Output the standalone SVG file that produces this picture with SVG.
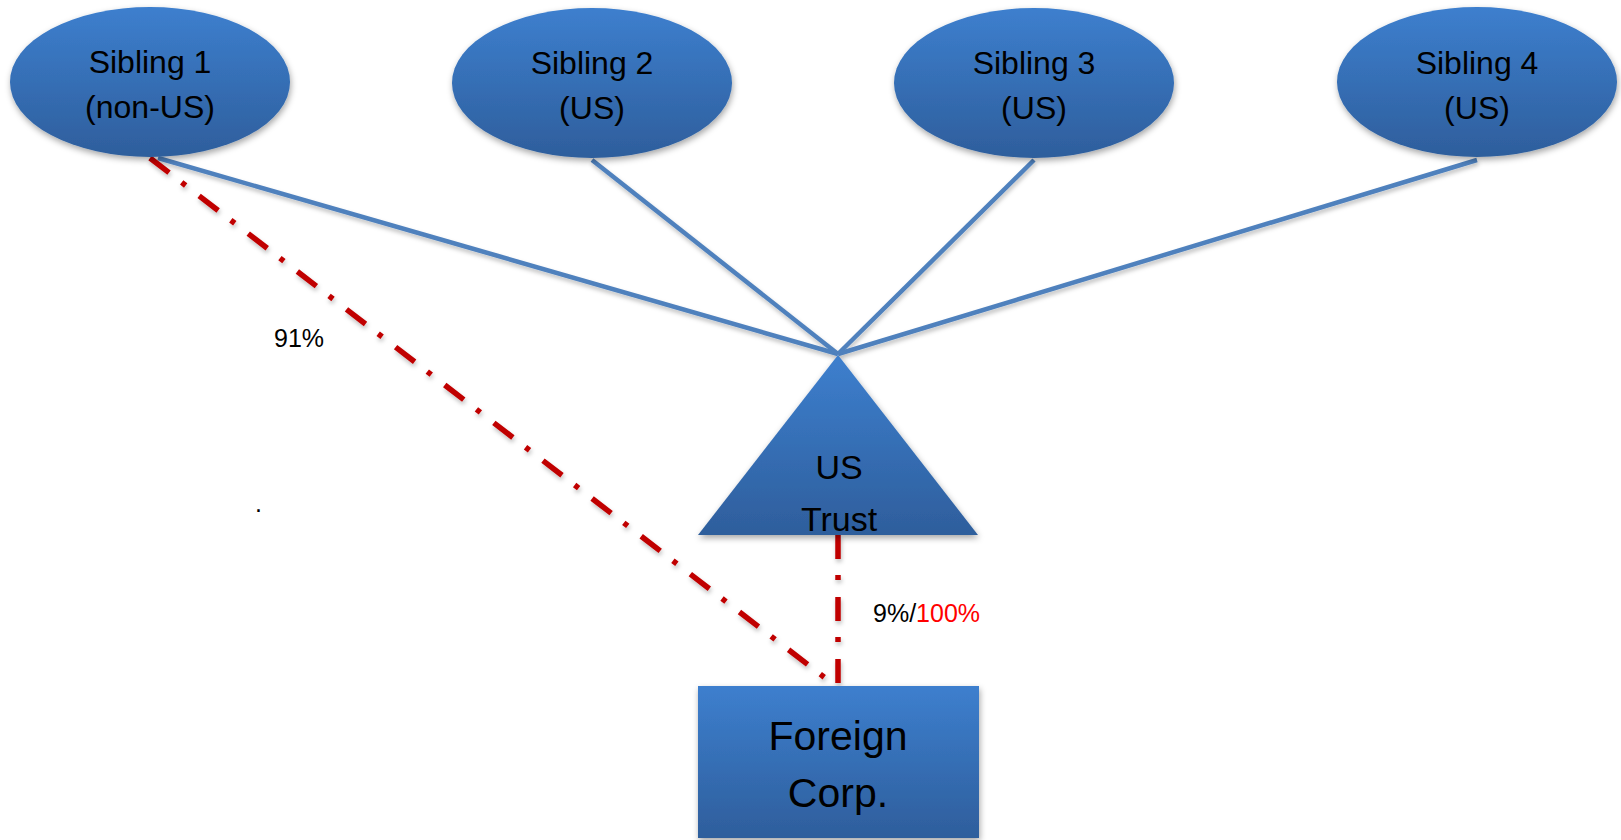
<svg xmlns="http://www.w3.org/2000/svg" width="1621" height="840" viewBox="0 0 1621 840">
<style>
.node{fill:url(#g);filter:url(#sh)}
.lbl{font-family:"Liberation Sans",Arial,sans-serif;fill:#000;text-anchor:middle}
.blue{stroke:#4F81BD;stroke-width:4.5;fill:none}
.red{stroke:#C00000;stroke-width:5.5;fill:none;stroke-dasharray:24 16 5 17}
.pct{font-family:"Liberation Sans",Arial,sans-serif;font-size:25px;fill:#000}
</style>
<defs>
<linearGradient id="g" x1="0" y1="0" x2="0" y2="1">
<stop offset="0" stop-color="#3D7FCE"/>
<stop offset="1" stop-color="#2E5E9C"/>
</linearGradient>
<filter id="sh" x="-10%" y="-10%" width="125%" height="130%">
<feDropShadow dx="1" dy="3" stdDeviation="3" flood-color="#000" flood-opacity="0.35"/>
</filter>
<filter id="lsh" x="-5%" y="-5%" width="110%" height="115%">
<feDropShadow dx="1" dy="3" stdDeviation="2" flood-color="#000" flood-opacity="0.25"/>
</filter>
</defs>
<rect width="1621" height="840" fill="#fff"/>
<g id="connectors">
<g filter="url(#lsh)">
<line class="blue" x1="158" y1="158" x2="838" y2="354"/>
<line class="blue" x1="592" y1="160" x2="838" y2="354"/>
<line class="blue" x1="1034" y1="160" x2="838" y2="354"/>
<line class="blue" x1="1477" y1="160" x2="838" y2="354"/>
</g>
<g filter="url(#lsh)">
<line class="red" x1="150" y1="158" x2="833" y2="684"/>
<line class="red" x1="838" y1="535" x2="838" y2="684"/>
</g>
</g>
<g id="sibling1">
<ellipse class="node" cx="150" cy="82" rx="140" ry="75"/>
<text class="lbl" x="150" y="73" font-size="32">Sibling 1</text>
<text class="lbl" x="150" y="118" font-size="32">(non-US)</text>
</g>
<g id="sibling2">
<ellipse class="node" cx="592" cy="83" rx="140" ry="75"/>
<text class="lbl" x="592" y="74" font-size="32">Sibling 2</text>
<text class="lbl" x="592" y="119" font-size="32">(US)</text>
</g>
<g id="sibling3">
<ellipse class="node" cx="1034" cy="83" rx="140" ry="75"/>
<text class="lbl" x="1034" y="74" font-size="32">Sibling 3</text>
<text class="lbl" x="1034" y="119" font-size="32">(US)</text>
</g>
<g id="sibling4">
<ellipse class="node" cx="1477" cy="82" rx="140" ry="75"/>
<text class="lbl" x="1477" y="74" font-size="32">Sibling 4</text>
<text class="lbl" x="1477" y="119" font-size="32">(US)</text>
</g>
<g id="ustrust">
<polygon class="node" points="838,355 978,535 698,535"/>
<text class="lbl" x="839" y="479" font-size="34">US</text>
<text class="lbl" x="839" y="531" font-size="34">Trust</text>
</g>
<g id="foreigncorp">
<rect class="node" x="698" y="686" width="281" height="152"/>
<text class="lbl" x="838" y="750" font-size="41">Foreign</text>
<text class="lbl" x="838" y="807" font-size="41">Corp.</text>
</g>
<g id="labels">
<text class="pct" x="274" y="347">91%</text>
<text class="pct" x="255" y="512" font-size="14">.</text>
<text class="pct" x="873" y="622">9%/<tspan fill="#FF0000">100%</tspan></text>
</g>
</svg>
